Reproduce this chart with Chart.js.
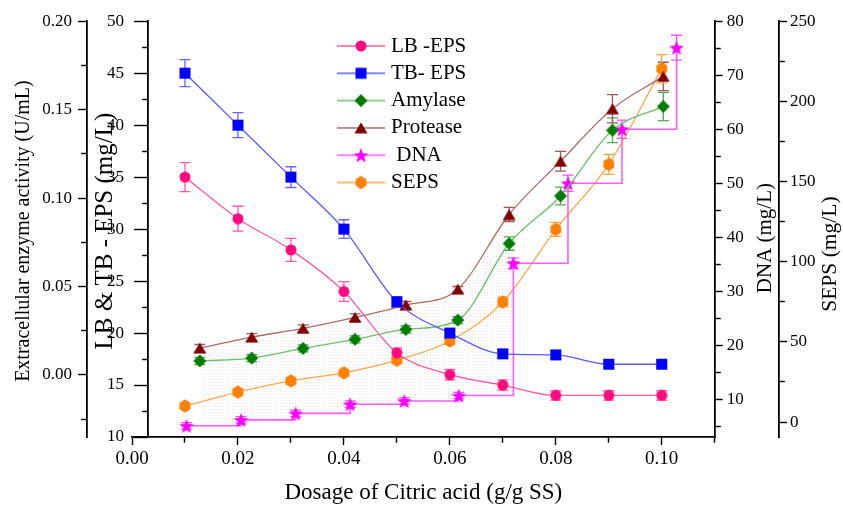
<!DOCTYPE html>
<html>
<head>
<meta charset="utf-8">
<script src="https://cdn.jsdelivr.net/npm/chart.js@4.4.0/dist/chart.umd.min.js"></script>
<style>
  html, body { margin: 0; padding: 0; background: #fff; }
</style>
</head>
<body>
<canvas id="myChart" width="843" height="507"></canvas>
<script>
// dosage of citric acid (g/g SS), as plotted for each group of series
const xEps = [0.01, 0.02, 0.03, 0.04, 0.05, 0.06, 0.07, 0.08, 0.09, 0.10];
const xEnzyme = [0.0128, 0.0226, 0.0323, 0.0421, 0.0517, 0.0615, 0.0712, 0.0809, 0.0907, 0.1003];
const xDna = [0.0103, 0.0206, 0.0309, 0.0412, 0.0514, 0.0617, 0.0720, 0.0823, 0.0925, 0.1028];

const lbEps = [35.0, 31.0, 28.0, 24.0, 18.1, 16.0, 15.0, 14.0, 14.0, 14.0];
const lbErr = [1.4, 1.2, 1.1, 0.95, 0.45, 0.5, 0.5, 0.45, 0.45, 0.45];
const tbEps = [45.0, 40.0, 35.0, 30.0, 23.0, 20.0, 18.0, 17.9, 17.0, 17.0];
const tbErr = [1.3, 1.2, 1.0, 0.9, 0.5, 0.3, 0.4, 0.4, 0.3, 0.3];
const amylase = [0.0079, 0.0095, 0.0150, 0.0201, 0.0257, 0.0310, 0.0743, 0.1012, 0.1383, 0.1518];
const amylaseErr = [0.002, 0.002, 0.002, 0.002, 0.002, 0.002, 0.0038, 0.005, 0.007, 0.008];
const protease = [0.0152, 0.0214, 0.0263, 0.0325, 0.0395, 0.0485, 0.0907, 0.1208, 0.1505, 0.1688];
const proteaseErr = [0.002, 0.002, 0.002, 0.002, 0.002, 0.0015, 0.004, 0.0056, 0.008, 0.008];
const dna = [5.1, 6.2, 7.4, 9.1, 9.7, 10.7, 35.2, 50.0, 60.0, 75.1];
const dnaErr = [0.6, 0.6, 0.6, 0.6, 0.6, 0.6, 1.0, 1.5, 1.7, 2.3];
const seps = [10.0, 18.7, 25.7, 30.7, 38.6, 50.6, 74.9, 120.2, 160.7, 220.4];
const sepsErr = [1, 1, 1, 1.2, 1.5, 2, 3, 4.4, 6.2, 8.8];

const labels = ["LB -EPS", "TB- EPS", "Amylase", "Protease", " DNA", "SEPS"];

Chart.defaults.font.family = '"Liberation Serif", "Times New Roman", serif';
Chart.defaults.color = "#000";

function marker(shape, color, w, h) {
  const c = document.createElement("canvas");
  c.width = w;
  c.height = h || w;
  const g = c.getContext("2d");
  const mx = c.width / 2, my = c.height / 2;
  g.fillStyle = color;
  g.beginPath();
  if (shape == "circle") {
    g.arc(mx, my, mx - 0.5, 0, Math.PI * 2);
  } else if (shape == "square") {
    g.rect(1, 1, c.width - 2, c.height - 2);
  } else if (shape == "diamond") {
    g.moveTo(mx, 0.5); g.lineTo(c.width - 0.5, my);
    g.lineTo(mx, c.height - 0.5); g.lineTo(0.5, my);
  } else if (shape == "triangle") {
    g.moveTo(mx, 0.5); g.lineTo(c.width - 0.5, c.height - 0.5); g.lineTo(0.5, c.height - 0.5);
  } else if (shape == "star") {
    for (let k = 0; k < 10; k++) {
      const r = k % 2 ? mx * 0.42 : mx - 0.3;
      const a = -Math.PI / 2 + k * Math.PI / 5;
      g.lineTo(mx + r * Math.cos(a), my + 0.8 + r * Math.sin(a));
    }
  } else if (shape == "hexagon") {
    for (let k = 0; k < 6; k++) {
      const a = -Math.PI / 2 + k * Math.PI / 3;
      g.lineTo(mx + (mx - 0.3) * Math.cos(a), my + (my - 0.3) * Math.sin(a));
    }
  }
  g.closePath();
  g.fill();
  return c;
}

function legendIcon(lineColor, mk) {
  const c = document.createElement("canvas");
  c.width = 48;
  c.height = 18;
  const g = c.getContext("2d");
  g.strokeStyle = lineColor;
  g.lineWidth = 1.3;
  g.beginPath();
  g.moveTo(0, 9);
  g.lineTo(48, 9);
  g.stroke();
  g.drawImage(mk, 24 - mk.width / 2, 9 - mk.height / 2);
  return c;
}

const lineColors = ["#ff5aa5", "#5a5aff", "#6cbf6c", "#b06a6a", "#ff5cff", "#ffa64d"];
const errColors = ["#ff5aa5", "#6666ff", "#55a855", "#a05a5a", "#ff4dff", "#ffa040"];
const markers = [
  marker("circle", "#ff0a80", 12),
  marker("square", "#0000ff", 13),
  marker("diamond", "#007c00", 14),
  marker("triangle", "#800000", 14, 12),
  marker("star", "#ff00ff", 16),
  marker("hexagon", "#ff8000", 13, 14),
];
const legendIcons = markers.map((m, i) => legendIcon(lineColors[i], m));
const errors = [lbErr, tbErr, amylaseErr, proteaseErr, dnaErr, sepsErr];

function pts(xs, ys) {
  return xs.map((x, i) => ({ x: x, y: ys[i] }));
}

function series(i, xs, ys, axis, extra) {
  return Object.assign({
    label: labels[i],
    data: pts(xs, ys),
    yAxisID: axis,
    borderColor: lineColors[i],
    backgroundColor: lineColors[i],
    borderWidth: 1.3,
    pointStyle: markers[i],
    pointRadius: 7,
    pointHoverRadius: 7,
    cubicInterpolationMode: "monotone",
  }, extra || {});
}

const datasets = [
  series(0, xEps, lbEps, "yEps"),
  series(1, xEps, tbEps, "yEps"),
  series(2, xEnzyme, amylase, "yEnz"),
  series(3, xEnzyme, protease, "yEnz"),
  series(4, xDna, dna, "yDna", { stepped: true, borderWidth: 1.6 }),
  series(5, xEps, seps, "ySeps"),
];

// short dash on minor ticks, full length on labelled ones
function tickDash(every, len) {
  return (c) => {
    const v = c.tick ? c.tick.value : 0;
    return Math.abs(v / every - Math.round(v / every)) < 1e-6 ? [] : [len, 60];
  };
}

function axisY(opts) {
  return {
    type: "linear",
    axis: "y",
    position: opts.position,
    weight: opts.weight || 0,
    min: opts.min,
    max: opts.max,
    border: { display: true, color: "#000", width: 1.8 },
    grid: {
      display: true, drawOnChartArea: false, drawTicks: true,
      tickLength: opts.tickLength || 8, tickWidth: 1.4, tickColor: "#000",
      tickBorderDash: tickDash(opts.every, 5),
    },
    ticks: {
      stepSize: opts.step, includeBounds: false, autoSkip: false,
      padding: opts.padding, font: { size: 17 }, color: "#000",
      callback: opts.callback,
    },
    afterFit: opts.width ? (s) => { s.width = opts.width; } : undefined,
  };
}

const extras = {
  id: "extras",
  afterLayout(chart) {
    const lg = chart.legend;
    lg.left = 335.2;
    lg.top = 29.2;
    lg.right = lg.left + lg.width;
    lg.bottom = lg.top + lg.height;
  },
  beforeDraw(chart) {
    // axes placed at an x value put their labels on the line; move them out past tick + padding
    ["yEnz", "yEps"].forEach((id) => {
      const s = chart.scales[id];
      const shift = s.options.grid.tickLength + s.options.ticks.padding;
      s.getLabelItems().forEach((it) => {
        if (!it._moved) {
          it.options.translation[0] -= shift;
          it._moved = true;
        }
      });
    });
  },
  beforeDatasetsDraw(chart) {
    const g = chart.ctx;
    // faint stippled band between the Protease curve and the DNA steps
    const dot = document.createElement("canvas");
    dot.width = 3; dot.height = 3;
    const dg = dot.getContext("2d");
    dg.fillStyle = "rgba(150,150,150,0.22)";
    dg.fillRect(1, 1, 1, 1);
    const p = chart.getDatasetMeta(3).data;
    const d = chart.getDatasetMeta(4).data;
    const n = 7;
    g.save();
    g.beginPath();
    g.moveTo(p[0].x, p[0].y);
    for (let i = 1; i < n; i++) {
      g.bezierCurveTo(p[i - 1].cp2x, p[i - 1].cp2y, p[i].cp1x, p[i].cp1y, p[i].x, p[i].y);
    }
    g.lineTo(d[n - 1].x, d[n - 1].y);
    for (let i = n - 1; i > 0; i--) {
      g.lineTo(d[i].x, d[i - 1].y);
      if (i > 1) g.lineTo(d[i - 1].x, d[i - 1].y);
    }
    g.lineTo(p[0].x, d[0].y);
    g.closePath();
    g.fillStyle = g.createPattern(dot, "repeat");
    g.fill();
    g.restore();

    // error bars
    chart.data.datasets.forEach((ds, i) => {
      const meta = chart.getDatasetMeta(i);
      const sc = chart.scales[ds.yAxisID];
      g.save();
      g.strokeStyle = errColors[i];
      g.lineWidth = 1.3;
      meta.data.forEach((pt, j) => {
        const v = ds.data[j].y;
        const e = errors[i][j];
        const y1 = sc.getPixelForValue(v + e);
        const y2 = sc.getPixelForValue(v - e);
        g.beginPath();
        g.moveTo(pt.x, y1); g.lineTo(pt.x, y2);
        g.moveTo(pt.x - 5.5, y1); g.lineTo(pt.x + 5.5, y1);
        g.moveTo(pt.x - 5.5, y2); g.lineTo(pt.x + 5.5, y2);
        g.stroke();
      });
      g.restore();
    });
  },
  afterDraw(chart) {
    const g = chart.ctx;
    const a = chart.chartArea;
    const mid = (a.top + a.bottom) / 2;
    const px = chart.scales.x;
    function vText(text, x, y, size) {
      g.save();
      g.translate(x, y);
      g.rotate(-Math.PI / 2);
      g.font = size + 'px "Liberation Serif"';
      g.fillStyle = "#000";
      g.textAlign = "center";
      g.textBaseline = "middle";
      g.fillText(text, 0, 0);
      g.restore();
    }
    vText("Extracellular enzyme activity (U/mL)", px.getPixelForValue(-0.0085) - 63, mid + 2, 20);
    vText("LB & TB - EPS (mg/L)", px.getPixelForValue(0.003) - 42, mid + 2, 25);
    vText("DNA (mg/L)", chart.scales.yDna.left + 51, mid + 9, 21);
    vText("SEPS (mg/L)", chart.scales.ySeps.left + 51, mid + 25, 21.5);
  },
};

const config = {
  type: "line",
  data: { datasets: datasets },
  options: {
    responsive: false,
    animation: false,
    devicePixelRatio: 1,
    layout: { padding: { left: 132, top: 21, right: 0, bottom: 0 } },
    scales: {
      x: {
        type: "linear",
        position: "bottom",
        min: 0,
        max: 0.11,
        border: { display: true, color: "#000", width: 1.8 },
        grid: {
          display: true, drawOnChartArea: false, drawTicks: true,
          tickLength: 8, tickWidth: 1.4, tickColor: "#000",
          tickBorderDash: tickDash(0.02, 5),
        },
        ticks: {
          stepSize: 0.01, includeBounds: false, autoSkip: false, maxRotation: 0,
          padding: 3, font: { size: 19 }, color: "#000",
          callback: (v) => (Math.round(v * 100) % 2 === 0 ? v.toFixed(2) : ""),
        },
        title: {
          display: true, text: "Dosage of Citric acid (g/g SS)",
          font: { size: 23 }, color: "#000", padding: { top: 0, bottom: 0 },
        },
        afterFit: (s) => { s.height = 70; },
      },
      yEnz: axisY({
        position: { x: -0.0085 }, min: -0.0351, max: 0.2, step: 0.025, every: 0.05, padding: 7,
        callback: (v) => (Math.round(v * 1000) % 50 === 0 ? v.toFixed(2) : ""),
      }),
      yEps: axisY({
        position: { x: 0.003 }, min: 10, max: 50, step: 2.5, every: 5, padding: 11, tickLength: 13,
        callback: (v) => (v % 5 === 0 ? String(v) : ""),
      }),
      yDna: axisY({
        position: "right", weight: 1, min: 3.03, max: 80, step: 5, every: 10, padding: 4, width: 64.3,
        callback: (v) => (v % 10 === 0 ? String(v) : ""),
      }),
      ySeps: axisY({
        position: "right", weight: 2, min: -9.3, max: 250, step: 25, every: 50, padding: 3, width: 64,
        callback: (v) => (v % 50 === 0 ? String(v) : ""),
      }),
    },
    plugins: {
      tooltip: { enabled: false },
      legend: {
        position: "chartArea",
        align: "start",
        labels: {
          usePointStyle: true,
          pointStyleWidth: 39,
          padding: 6.3,
          font: { size: 21 },
          color: "#000",
          generateLabels: (chart) =>
            chart.data.datasets.map((ds, i) => ({
              text: ds.label,
              pointStyle: legendIcons[i],
              datasetIndex: i,
              hidden: false,
              lineWidth: 0,
              fillStyle: ds.borderColor,
              strokeStyle: ds.borderColor,
              fontColor: "#000",
            })),
        },
      },
    },
  },
  plugins: [extras],
};

const myChart = new Chart(document.getElementById("myChart"), config);
</script>
</body>
</html>
